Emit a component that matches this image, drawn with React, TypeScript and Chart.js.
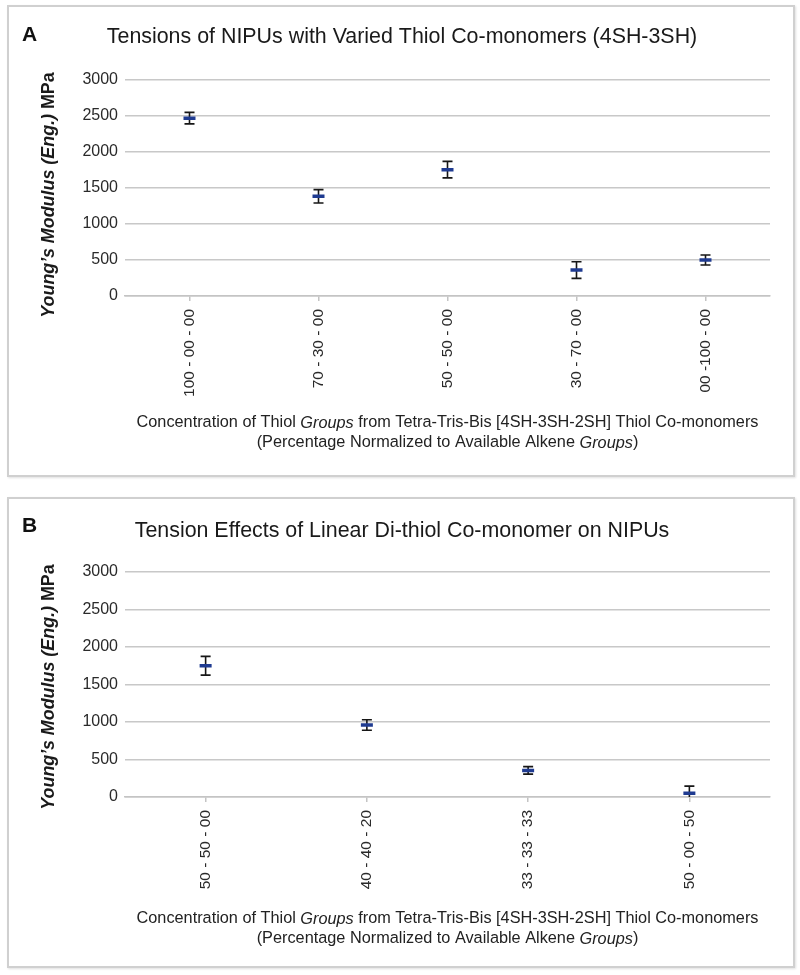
import React, { useEffect, useRef } from 'react';
import { Chart, registerables } from 'chart.js';

Chart.register(...registerables);

// ---------- data ----------
const categoriesA = ['100 - 00 - 00', '70 - 30 - 00', '50 - 50 - 00', '30 - 70 - 00', '00 -100 - 00'];
const modulusA = [2470, 1385, 1755, 360, 500];
const errorA = [80, 93, 115, 115, 70];

const categoriesB = ['50 - 50 - 00', '40 - 40 - 20', '33 - 33 - 33', '50 - 00 - 50'];
const modulusB = [1750, 960, 355, 50];
const errorB = [125, 70, 50, 95];

const yAxisMin = 0;
const yAxisMax = 3000;
const yAxisStep = 500;

const titleA = 'Tensions of NIPUs with Varied Thiol Co-monomers (4SH-3SH)';
const titleB = 'Tension Effects of Linear Di-thiol Co-monomer on NIPUs';

type Seg = { text: string; italic?: boolean; bold?: boolean };

const yTitleSegs: Seg[] = [
  { text: 'Young\u2019s Modulus (Eng.) ', italic: true, bold: true },
  { text: 'MPa', bold: true },
];
const xTitleLine1: Seg[] = [
  { text: 'Concentration of Thiol ' },
  { text: 'Groups', italic: true },
  { text: ' from Tetra-Tris-Bis [4SH-3SH-2SH] Thiol Co-monomers' },
];
const xTitleLine2: Seg[] = [
  { text: '(Percentage Normalized to Available Alkene ' },
  { text: 'Groups', italic: true },
  { text: ')' },
];

const FONT = '"Liberation Sans", Arial, Helvetica, sans-serif';

function segFont(s: Seg, size: number) {
  return `${s.italic ? 'italic ' : ''}${s.bold ? 'bold ' : ''}${size}px ${FONT}`;
}

function drawRich(ctx: CanvasRenderingContext2D, segs: Seg[], size: number, cx: number, cy: number, color: string) {
  let total = 0;
  const widths = segs.map((s) => {
    ctx.font = segFont(s, size);
    const w = ctx.measureText(s.text).width;
    total += w;
    return w;
  });
  let x = cx - total / 2;
  ctx.fillStyle = color;
  ctx.textBaseline = 'middle';
  ctx.textAlign = 'left';
  segs.forEach((s, i) => {
    ctx.font = segFont(s, size);
    ctx.fillText(s.text, x, cy);
    x += widths[i];
  });
}

const errorBarPlugin = {
  id: 'errorBars',
  beforeDatasetsDraw(chart: any, _args: any, opts: any) {
    const { ctx, chartArea } = chart;
    const y = chart.scales.y;
    const meta = chart.getDatasetMeta(0);
    const values = chart.data.datasets[0].data as number[];
    const errs: number[] = opts.errors || [];
    ctx.save();
    ctx.beginPath();
    ctx.rect(chartArea.left, chartArea.top - 10, chartArea.right - chartArea.left, chartArea.bottom - chartArea.top + 10);
    ctx.clip();
    ctx.strokeStyle = '#161616';
    ctx.lineWidth = 1.6;
    meta.data.forEach((pt: any, i: number) => {
      const v = values[i];
      const e = errs[i] || 0;
      const yTop = y.getPixelForValue(v + e);
      const yBot = y.getPixelForValue(v - e);
      ctx.beginPath();
      ctx.moveTo(pt.x, yTop);
      ctx.lineTo(pt.x, yBot);
      ctx.moveTo(pt.x - 5, yTop);
      ctx.lineTo(pt.x + 5, yTop);
      ctx.moveTo(pt.x - 5, yBot);
      ctx.lineTo(pt.x + 5, yBot);
      ctx.stroke();
    });
    ctx.restore();
  },
};

const textPlugin = {
  id: 'panelText',
  afterDraw(chart: any, _args: any, opts: any) {
    const { ctx, chartArea, width } = chart;
    ctx.save();
    // panel letter
    ctx.font = `bold 21px ${FONT}`;
    ctx.fillStyle = '#111';
    ctx.textAlign = 'left';
    ctx.textBaseline = 'middle';
    ctx.fillText(opts.letter, 13, opts.letterY);
    // title
    ctx.font = `21.4px ${FONT}`;
    ctx.fillStyle = '#1a1a1a';
    ctx.textAlign = 'center';
    ctx.fillText(opts.title, width / 2 + 1, opts.titleY);
    // y title
    ctx.save();
    ctx.translate(40, opts.yTitleY);
    ctx.rotate(-Math.PI / 2);
    drawRich(ctx, yTitleSegs, 17.9, 0, 0, '#1a1a1a');
    ctx.restore();
    // x title
    const cx = (chartArea.left + chartArea.right) / 2;
    drawRich(ctx, xTitleLine1, 16.3, cx, opts.xTitleY1, '#222');
    drawRich(ctx, xTitleLine2, 16.3, cx, opts.xTitleY2, '#222');
    ctx.restore();
  },
};

type PanelProps = {
  letter: string;
  title: string;
  labels: string[];
  values: number[];
  errors: number[];
  top: number;
  height: number;
  xAxisHeight: number;
  letterY: number;
  titleY: number;
  yTitleY: number;
  xTitleY1: number;
  xTitleY2: number;
};

function Panel(p: PanelProps) {
  const ref = useRef<HTMLCanvasElement | null>(null);
  const canvasW = 784;
  const canvasH = p.height - 4;

  useEffect(() => {
    if (!ref.current) return;
    const chart = new Chart(ref.current, {
      type: 'line',
      data: {
        labels: p.labels,
        datasets: [
          {
            data: p.values,
            showLine: false,
            pointStyle: 'line',
            pointRadius: 6,
            pointHoverRadius: 6,
            pointBorderWidth: 3.5,
            pointBorderColor: '#1f3b91',
            pointBackgroundColor: '#1f3b91',
            borderColor: '#1f3b91',
          },
        ],
      },
      options: {
        responsive: false,
        animation: false,
        devicePixelRatio: 1,
        events: [],
        layout: { padding: { top: 73, right: 23, left: 0, bottom: 0 } },
        plugins: {
          legend: { display: false },
          tooltip: { enabled: false },
          errorBars: { errors: p.errors },
          panelText: {
            letter: p.letter,
            title: p.title,
            letterY: p.letterY,
            titleY: p.titleY,
            yTitleY: p.yTitleY,
            xTitleY1: p.xTitleY1,
            xTitleY2: p.xTitleY2,
          },
        } as any,
        scales: {
          x: {
            type: 'category',
            offset: true,
            grid: {
              display: true,
              drawOnChartArea: false,
              drawTicks: true,
              tickLength: 5,
              offset: false,
              color: '#c4c4c4',
              lineWidth: 1.5,
            },
            border: { display: true, color: '#c4c4c4', width: 1.5 },
            ticks: {
              autoSkip: false,
              maxRotation: 90,
              minRotation: 90,
              padding: 8,
              color: '#2a2a2a',
              font: { family: FONT, size: 15.5 },
            },
            afterFit: (scale: any) => {
              scale.height = p.xAxisHeight;
            },
          },
          y: {
            min: yAxisMin,
            max: yAxisMax,
            ticks: {
              stepSize: yAxisStep,
              padding: 7,
              color: '#2a2a2a',
              font: { family: FONT, size: 16 },
              callback: (v: any) => String(v),
            },
            grid: { color: '#c8c8c8', lineWidth: 1.5, drawTicks: false },
            border: { display: false },
            afterFit: (scale: any) => {
              scale.width = 116;
            },
          },
        },
      },
      plugins: [errorBarPlugin, textPlugin],
    } as any);
    return () => chart.destroy();
  }, []);

  return (
    <div
      style={{
        position: 'absolute',
        left: 7,
        top: p.top,
        width: 788,
        height: p.height,
        border: '2px solid #d0d0d0',
        boxSizing: 'border-box',
        boxShadow: '1px 1px 2px rgba(0,0,0,0.12)',
        background: '#fff',
      }}
    >
      <canvas ref={ref} width={canvasW} height={canvasH} style={{ display: 'block', width: canvasW, height: canvasH }} />
    </div>
  );
}

export default function App() {
  return (
    <div style={{ position: 'absolute', left: 0, top: 0, width: 800, height: 975, background: '#fff' }}>
      <Panel
        letter="A"
        title={titleA}
        labels={categoriesA}
        values={modulusA}
        errors={errorA}
        top={5}
        height={472}
        xAxisHeight={179}
        letterY={28}
        titleY={30}
        yTitleY={188}
        xTitleY1={416}
        xTitleY2={436}
      />
      <Panel
        letter="B"
        title={titleB}
        labels={categoriesB}
        values={modulusB}
        errors={errorB}
        top={497}
        height={471}
        xAxisHeight={169}
        letterY={27}
        titleY={32}
        yTitleY={188}
        xTitleY1={420}
        xTitleY2={440}
      />
    </div>
  );
}
